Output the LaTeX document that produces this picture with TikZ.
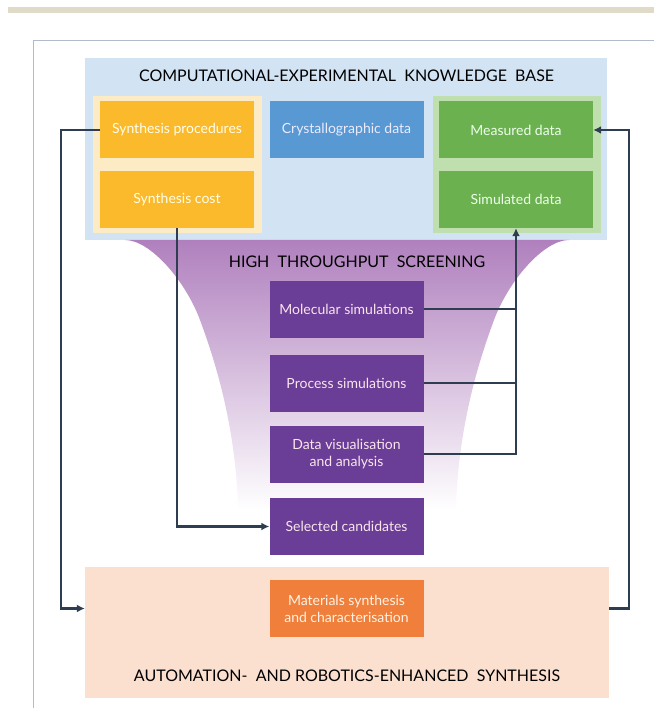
\documentclass[tikz,border=0pt]{standalone}
\usepackage{fontspec}
\setmainfont{Lato}
\usetikzlibrary{positioning}
\usetikzlibrary{arrows.meta}
\usetikzlibrary{math}
\usetikzlibrary{calc}

\definecolor{barbeige}{HTML}{E0DBC9}
\definecolor{framegray}{HTML}{B0BCCB}
\definecolor{kbblue}{HTML}{D2E3F4}
\definecolor{yellowback}{HTML}{FDEBC5}
\definecolor{yellowbox}{HTML}{FBB92C}
\definecolor{crystblue}{HTML}{5898D3}
\definecolor{greenback}{HTML}{BFE0AE}
\definecolor{greenbox}{HTML}{6CB14F}
\definecolor{funnelpurple}{HTML}{B080BE}
\definecolor{purplebox}{HTML}{6A3D96}
\definecolor{peach}{HTML}{FBE0D0}
\definecolor{orangebox}{HTML}{EF7F3A}
\definecolor{arrowslate}{HTML}{2E3D4F}

\begin{document}
\begin{tikzpicture}[
  x=1pt, y=-1pt,
  box/.style={minimum width=154pt, minimum height=57pt, inner sep=0pt,
    align=center, font=\fontsize{14}{17}\selectfont},
  title/.style={font=\fontsize{16}{19}\selectfont, text=black},
  flow/.style={draw=arrowslate, line width=2.4pt, -{Latex[length=8pt,width=8pt]}},
  link/.style={draw=arrowslate, line width=2.4pt},
  ]

  \tikzmath{
    \midx   = 346.5; % centre line of the picture
    \leftx  = 177;   % centre of the left column
    \rightx = 516;   % centre of the right column
  }

  \useasboundingbox (0,0) rectangle (654,708);

  % Page decoration
  \fill[barbeige] (8,7) rectangle (654,13);
  \draw[framegray, line width=0.8pt] (33,708) -- (33,40) -- (654,40);

  % Knowledge base
  \fill[kbblue] (85,58) rectangle (607,240);
  \fill[yellowback] (93,96) rectangle (262,233);
  \fill[greenback] (433,96) rectangle (601,233);
  \node[title] (kbtitle) at (\midx,76) {COMPUTATIONAL-EXPERIMENTAL\ \ KNOWLEDGE\ \ BASE};

  \node[box, fill=yellowbox, text=white!92!yellow] (proc) at (\leftx,130) {Synthesis procedures};
  \node[box, fill=yellowbox, text=white!92!yellow] (cost) at (\leftx,199.5) {Synthesis cost};
  \node[box, fill=crystblue, text=white!92!blue] (cryst) at (\midx,130) {Crystallographic data};
  \node[box, fill=greenbox, text=white!92!green] (meas) at (\rightx,130) {Measured data};
  \node[box, fill=greenbox, text=white!92!green] (simd) at (\rightx,199.5) {Simulated data};

  % Screening funnel
  \shade[top color=funnelpurple, middle color=funnelpurple!82!white, bottom color=white]
    (125,240) .. controls (150,240) and (185,280) .. (200,320)
    .. controls (211,350) and (236,420) .. (238,510)
    -- (456,510) .. controls (458,420) and (483,350) .. (494,320)
    .. controls (509,280) and (544,240) .. (569,240) -- cycle;
  \node[title] (htstitle) at (357,262) {HIGH\ \ THROUGHPUT\ \ SCREENING};

  \node[box, fill=purplebox, text=white!90!purple] (mol) at (\midx,309) {Molecular simulations};
  \node[box, fill=purplebox, text=white!90!purple] (proc sim) at (\midx,383) {Process simulations};
  \node[box, fill=purplebox, text=white!90!purple] (vis) at (\midx,454) {Data visualisation\\and analysis};
  \node[box, fill=purplebox, text=white!90!purple] (cand) at (\midx,526.5) {Selected candidates};

  % Automated synthesis
  \node[fill=peach, minimum width=524pt, minimum height=131pt, inner sep=0pt] (synth) at (347,632.5) {};
  \node[box, fill=orangebox, text=white!90!orange] (mat) at (\midx,608.5) {Materials synthesis\\and characterisation};
  \node[title] (autotitle) at (347,676) {AUTOMATION-\ \ AND\ ROBOTICS-ENHANCED\ \ SYNTHESIS};

  % Connectors
  \draw[flow] (proc.west) -- ++(-39,0) |- (synth.west |- mat);
  \draw[flow] (cost.south) |- (cand.west);
  \draw[flow] (synth.east |- mat) -- ++(20,0) |- (meas.east);
  \draw[link] (mol.east) -- (mol.east -| simd.south);
  \draw[link] (proc sim.east) -- (proc sim.east -| simd.south);
  \draw[flow] (vis.east) -| (simd.south);

\end{tikzpicture}
\end{document}
